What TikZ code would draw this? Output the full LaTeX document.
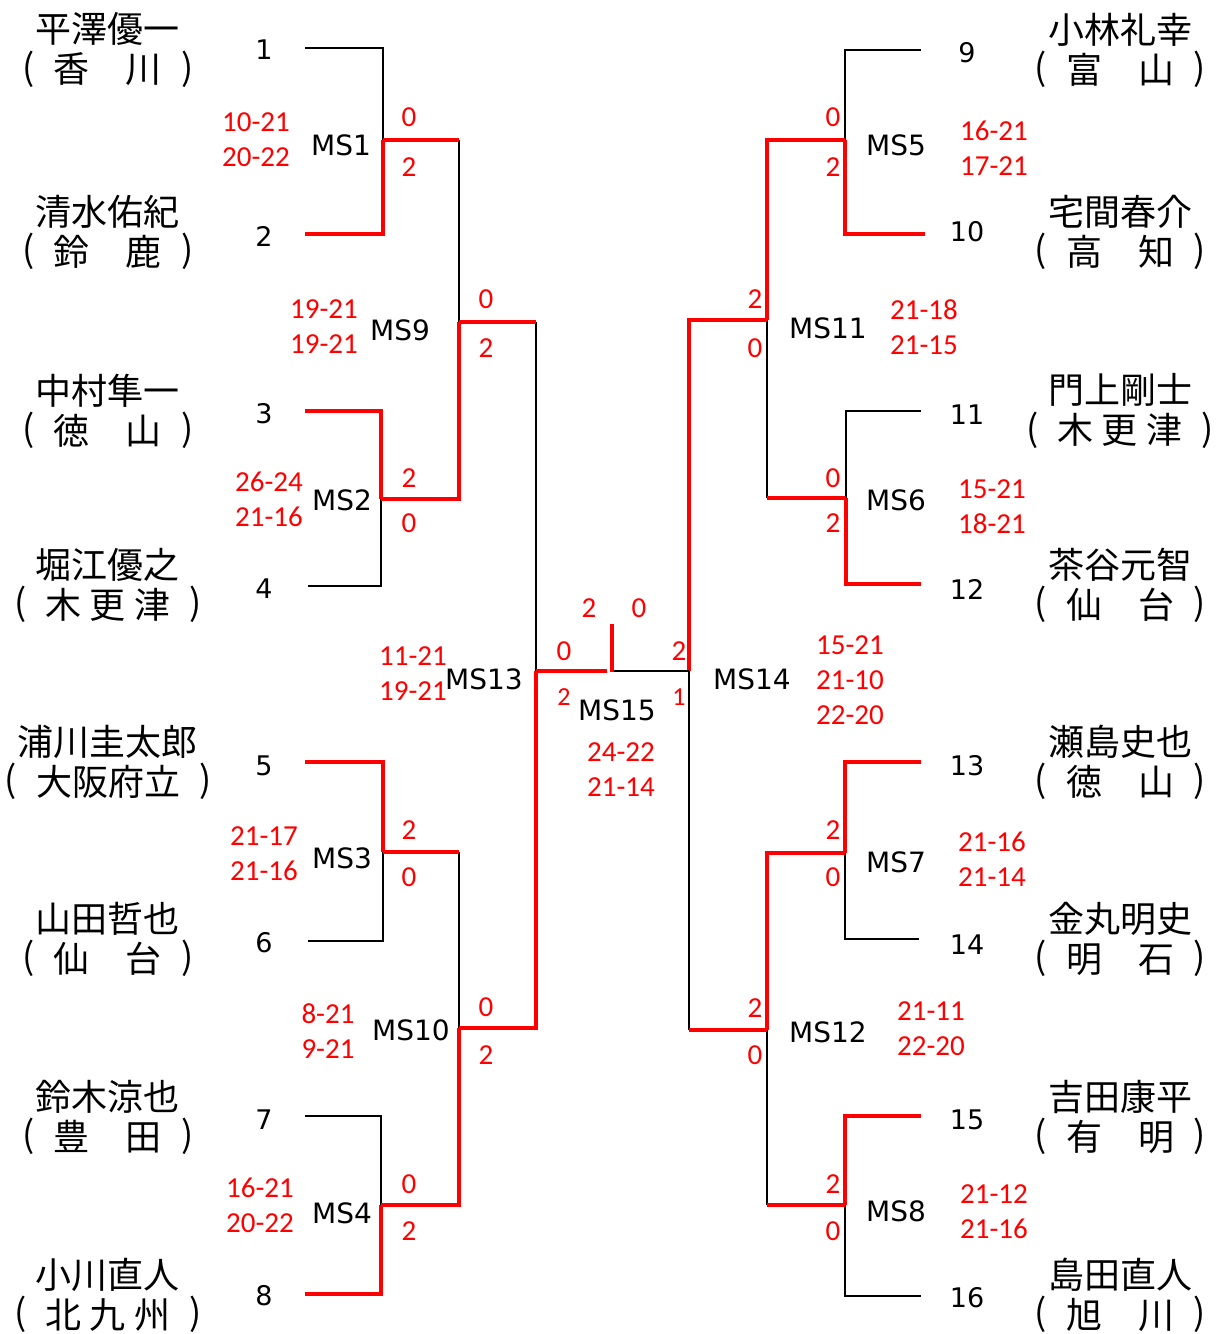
\documentclass[tikz,border=0pt]{standalone}
\usepackage{fontspec}
\usepackage{xcolor}
\usepackage{tikz}
\newfontfamily\jpfont{Noto Sans CJK JP}
\newfontfamily\labfont{DejaVu Sans}
\newfontfamily\scfont{Carlito}
\definecolor{winred}{RGB}{255,0,0}
\newcommand\plopen{\makebox[1em][l]{\kern0.12em\raisebox{0.08em}{(}}}
\newcommand\plclose{\makebox[1em][r]{\raisebox{0.08em}{)}\kern0.12em}}

\begin{document}
\begin{tikzpicture}[x=0.5pt,y=-0.5pt,
  lose/.style={draw=black,line width=1pt},
  win/.style={draw=winred,line width=2pt},
  player/.style={font=\jpfont\fontsize{18}{20}\selectfont,inner sep=0pt,align=center},
  seed/.style={font=\labfont\fontsize{13.5}{13.5}\selectfont,inner sep=0pt},
  match/.style={font=\labfont\fontsize{14}{14}\selectfont,inner sep=0pt},
  score/.style={font=\scfont\fontsize{14.5}{17.5}\selectfont,text=winred,inner sep=0pt,align=center},
  games/.style={font=\scfont\fontsize{14.5}{14.5}\selectfont,text=winred,inner sep=0pt},
  small games/.style={font=\scfont\fontsize{13}{13}\selectfont,text=winred,inner sep=0pt}]
  \useasboundingbox (0,0) rectangle (1217,1334);
  % players, left half
  \node[player] (n1) at (108,50) {平澤優一\\\plopen 香　川\plclose};
  \node[player] (n2) at (108,232) {清水佑紀\\\plopen 鈴　鹿\plclose};
  \node[player] (n3) at (108,411) {中村隼一\\\plopen 徳　山\plclose};
  \node[player] (n4) at (108,585) {堀江優之\\\plopen 木 更 津\plclose};
  \node[player] (n5) at (108,762) {浦川圭太郎\\\plopen 大阪府立\plclose};
  \node[player] (n6) at (108,939) {山田哲也\\\plopen 仙　台\plclose};
  \node[player] (n7) at (108,1117) {鈴木涼也\\\plopen 豊　田\plclose};
  \node[player] (n8) at (108,1295) {小川直人\\\plopen 北 九 州\plclose};
  % players, right half
  \node[player] (n9) at (1120,50) {小林礼幸\\\plopen 富　山\plclose};
  \node[player] (n10) at (1120,232) {宅間春介\\\plopen 高　知\plclose};
  \node[player] (n11) at (1120,411) {門上剛士\\\plopen 木 更 津\plclose};
  \node[player] (n12) at (1120,585) {茶谷元智\\\plopen 仙　台\plclose};
  \node[player] (n13) at (1120,762) {瀬島史也\\\plopen 徳　山\plclose};
  \node[player] (n14) at (1120,939) {金丸明史\\\plopen 明　石\plclose};
  \node[player] (n15) at (1120,1117) {吉田康平\\\plopen 有　明\plclose};
  \node[player] (n16) at (1120,1295) {島田直人\\\plopen 旭　川\plclose};
  % seed numbers
  \node[seed] (s1) at (264,50) {1};
  \node[seed] (s2) at (264,236) {2};
  \node[seed] (s3) at (264,414) {3};
  \node[seed] (s4) at (264,589) {4};
  \node[seed] (s5) at (264,766) {5};
  \node[seed] (s6) at (264,943) {6};
  \node[seed] (s7) at (264,1120) {7};
  \node[seed] (s8) at (264,1296) {8};
  \node[seed] (s9) at (967,53) {9};
  \node[seed] (s10) at (967,232) {10};
  \node[seed] (s11) at (967,415) {11};
  \node[seed] (s12) at (967,589) {12};
  \node[seed] (s13) at (967,766) {13};
  \node[seed] (s14) at (967,945) {14};
  \node[seed] (s15) at (967,1120) {15};
  \node[seed] (s16) at (967,1298) {16};
  % bracket points
  \coordinate (a1) at (305,48);   \coordinate (a2) at (305,234);
  \coordinate (a3) at (305,411);  \coordinate (a4) at (308,586);
  \coordinate (a5) at (305,762);  \coordinate (a6) at (308,941);
  \coordinate (a7) at (305,1116); \coordinate (a8) at (305,1294);
  \coordinate (b9) at (921,50);   \coordinate (b10) at (925,234);
  \coordinate (b11) at (921,411); \coordinate (b12) at (921,584);
  \coordinate (b13) at (921,762); \coordinate (b14) at (919,939);
  \coordinate (b15) at (921,1116);\coordinate (b16) at (921,1296);
  \coordinate (m1) at (383,140);  \coordinate (m2) at (381,499);
  \coordinate (m3) at (383,852);  \coordinate (m4) at (381,1205);
  \coordinate (m5) at (845,140);  \coordinate (m6) at (846,498);
  \coordinate (m7) at (845,853);  \coordinate (m8) at (845,1205);
  \coordinate (m9) at (459,322);  \coordinate (m10) at (459,1028);
  \coordinate (m11) at (767,320); \coordinate (m12) at (767,1030);
  \coordinate (m13) at (536,671); \coordinate (m14) at (689,671);
  \coordinate (f1) at (607,671);  \coordinate (f2) at (610,671);
  \coordinate (ftop) at (612,624);\coordinate (fbot) at (612,672);
  % first round
  \draw[lose] (a1) -| (m1);  \draw[win] (a2) -| (m1);
  \draw[win] (a3) -| (m2);   \draw[lose] (a4) -| (m2);
  \draw[win] (a5) -| (m3);   \draw[lose] (a6) -| (m3);
  \draw[lose] (a7) -| (m4);  \draw[win] (a8) -| (m4);
  \draw[lose] (b9) -| (m5);  \draw[win] (b10) -| (m5);
  \draw[lose] (b11) -| (m6); \draw[win] (b12) -| (m6);
  \draw[win] (b13) -| (m7);  \draw[lose] (b14) -| (m7);
  \draw[win] (b15) -| (m8);  \draw[lose] (b16) -| (m8);
  % second round
  \draw[lose] (m1 -| m9) -- (m9); \draw[win] (m1) -- (m1 -| m9);
  \draw[win] (m2) -| (m9);
  \draw[lose] (m3 -| m10) -- (m10); \draw[win] (m3) -- (m3 -| m10);
  \draw[win] (m4) -| (m10);
  \draw[win] (m5) -| (m11);
  \draw[lose] (m6 -| m11) -- (m11); \draw[win] (m6) -- (m6 -| m11);
  \draw[win] (m7) -| (m12);
  \draw[lose] (m8 -| m12) -- (m12); \draw[win] (m8) -- (m8 -| m12);
  % semi finals and final
  \draw[lose] (m9 -| m13) -- (m13); \draw[win] (m9) -- (m9 -| m13);
  \draw[win] (m10) -| (m13);
  \draw[win] (m11) -| (m14);
  \draw[lose] (m12 -| m14) -- (m14); \draw[win] (m12) -- (m12 -| m14);
  \draw[win] (m13) -- (f1);
  \draw[lose] (m14) -- (f2);
  \draw[win] (fbot) -- (ftop);
  % match names
  \node[match] (ms1) at (341,145) {MS1};
  \node[match] (ms2) at (342,500) {MS2};
  \node[match] (ms3) at (342,858) {MS3};
  \node[match] (ms4) at (342,1213) {MS4};
  \node[match] (ms5) at (896,145) {MS5};
  \node[match] (ms6) at (896,500) {MS6};
  \node[match] (ms7) at (896,862) {MS7};
  \node[match] (ms8) at (896,1211) {MS8};
  \node[match] (ms9) at (400,330) {MS9};
  \node[match] (ms10) at (411,1030) {MS10};
  \node[match] (ms11) at (828,328) {MS11};
  \node[match] (ms12) at (828,1032) {MS12};
  \node[match] (ms13) at (484,679) {MS13};
  \node[match] (ms14) at (752,679) {MS14};
  \node[match] (ms15) at (617,710) {MS15};
  % game scores
  \node[score] (r1) at (256,140) {10-21\\20-22};
  \node[score] (r2) at (269,499) {26-24\\21-16};
  \node[score] (r3) at (264,854) {21-17\\21-16};
  \node[score] (r4) at (260,1205) {16-21\\20-22};
  \node[score] (r5) at (994,148) {16-21\\17-21};
  \node[score] (r6) at (992,507) {15-21\\18-21};
  \node[score] (r7) at (992,859) {21-16\\21-14};
  \node[score] (r8) at (994,1212) {21-12\\21-16};
  \node[score] (r9) at (324,327) {19-21\\19-21};
  \node[score] (r10) at (328,1031) {8-21\\9-21};
  \node[score] (r11) at (924,327) {21-18\\21-15};
  \node[score] (r12) at (931,1029) {21-11\\22-20};
  \node[score] (r13) at (413,674) {11-21\\19-21};
  \node[score] (r14) at (850,680) {15-21\\21-10\\22-20};
  \node[score] (r15) at (621,770) {24-22\\21-14};
  % games won
  \node[games] (g1a) at (409,117) {0};  \node[games] (g1b) at (409,167) {2};
  \node[games] (g2a) at (409,478) {2};  \node[games] (g2b) at (409,523) {0};
  \node[games] (g3a) at (409,830) {2};  \node[games] (g3b) at (409,877) {0};
  \node[games] (g4a) at (409,1184) {0}; \node[games] (g4b) at (409,1231) {2};
  \node[games] (g5a) at (833,117) {0};  \node[games] (g5b) at (833,167) {2};
  \node[games] (g6a) at (833,478) {0};  \node[games] (g6b) at (833,523) {2};
  \node[games] (g7a) at (833,830) {2};  \node[games] (g7b) at (833,877) {0};
  \node[games] (g8a) at (833,1184) {2}; \node[games] (g8b) at (833,1231) {0};
  \node[games] (g9a) at (486,299) {0};  \node[games] (g9b) at (486,348) {2};
  \node[games] (g10a) at (486,1007) {0};\node[games] (g10b) at (486,1055) {2};
  \node[games] (g11a) at (755,299) {2}; \node[games] (g11b) at (755,348) {0};
  \node[games] (g12a) at (755,1008) {2};\node[games] (g12b) at (755,1055) {0};
  \node[games] (g13a) at (589,608) {2}; \node[games] (g13b) at (639,608) {0};
  \node[games] (g13c) at (564,651) {0}; \node[games] (g14a) at (679,651) {2};
  \node[small games] (g15a) at (564,697) {2};
  \node[small games] (g15b) at (679,697) {1};
\end{tikzpicture}
\end{document}
